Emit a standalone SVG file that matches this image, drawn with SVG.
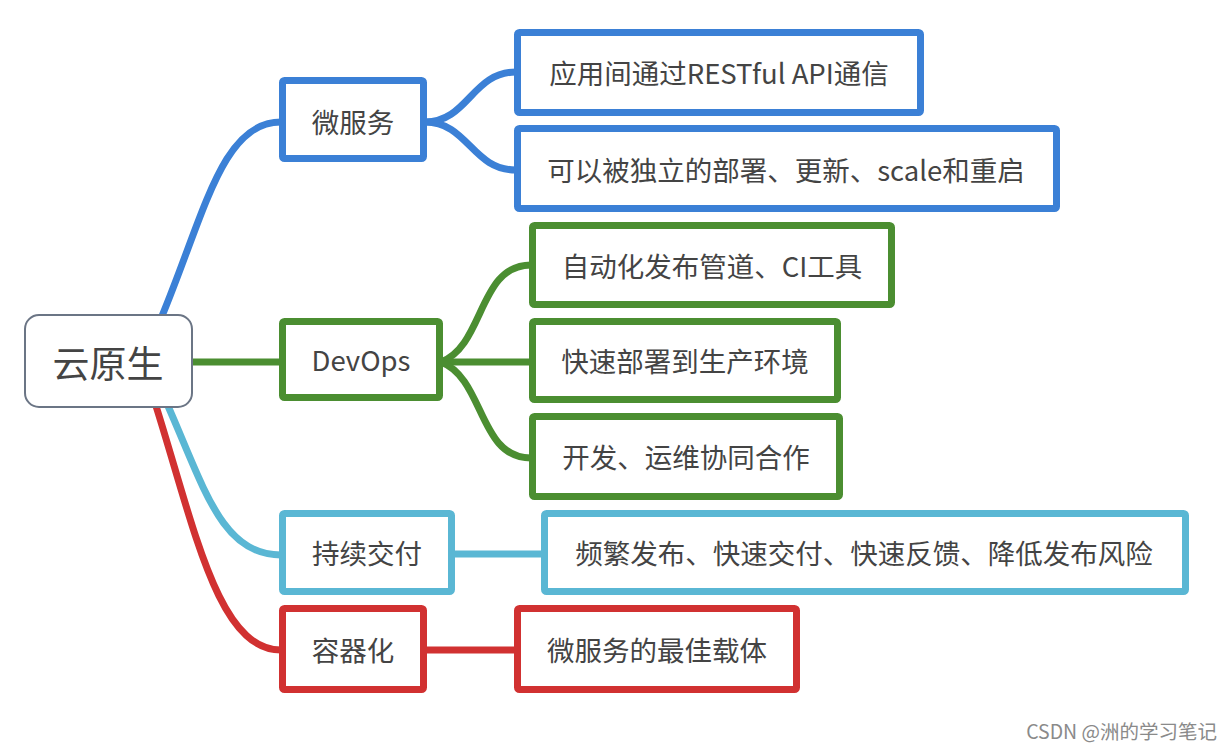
<svg xmlns="http://www.w3.org/2000/svg" width="1230" height="750" viewBox="0 0 1230 750">
<style>
  .t{font-family:"Noto Sans CJK SC","Liberation Sans",sans-serif;font-size:27.5px;fill:#444;text-anchor:middle;dominant-baseline:central}
  .box{fill:#fff;stroke-width:7}
  .c{fill:none;stroke-width:7;stroke-linecap:round}
  .blue{stroke:#3b80d6}
  .green{stroke:#4b8e31}
  .cyan{stroke:#5ab7d4}
  .red{stroke:#d13131}
</style>
<rect width="1230" height="750" fill="#fff"/>
<g id="connectors">
  <path class="c blue" d="M162 316 C205 212 222 122 281 122"/>
  <path class="c green" d="M192 362 L281 362"/>
  <path class="c cyan" d="M168 406 C205 490 222 555 281 555"/>
  <path class="c red" d="M156 406 C195 530 218 650 281 650"/>
  <path class="c blue" d="M425 122 C468 122 472 72 516 72"/>
  <path class="c blue" d="M425 122 C468 122 472 170 516 170"/>
  <path class="c green" d="M441 362 C485 345 478 265 531 265"/>
  <path class="c green" d="M441 362 L531 362"/>
  <path class="c green" d="M441 362 C485 379 478 458 531 458"/>
  <path class="c cyan" d="M453 554 L543 554"/>
  <path class="c red" d="M425 650 L516 650"/>
</g>
<g id="root">
  <rect x="25" y="315" width="167" height="92" rx="14" fill="#fff" stroke="#6b7585" stroke-width="2"/>
  <text class="t" x="108" y="362" style="font-size:37px">云原生</text>
</g>
<g id="n-microservice">
  <rect class="box blue" x="282.5" y="80.5" width="141" height="78" rx="2"/>
  <text class="t" x="353" y="121">微服务</text>
</g>
<g id="n-rest">
  <rect class="box blue" x="517.5" y="32.5" width="403" height="80" rx="2"/>
  <text class="t" x="719" y="72">应用间通过RESTful API通信</text>
</g>
<g id="n-deploy">
  <rect class="box blue" x="517.5" y="128.5" width="539" height="80" rx="2"/>
  <text class="t" x="786" y="169">可以被独立的部署、更新、scale和重启</text>
</g>
<g id="n-devops">
  <rect class="box green" x="282.5" y="321.5" width="157" height="76" rx="2"/>
  <text class="t" x="361" y="359">DevOps</text>
</g>
<g id="n-ci">
  <rect class="box green" x="532.5" y="225.5" width="359" height="79" rx="2"/>
  <text class="t" x="712" y="265">自动化发布管道、CI工具</text>
</g>
<g id="n-prod">
  <rect class="box green" x="532.5" y="321.5" width="305" height="78" rx="2"/>
  <text class="t" x="685" y="360">快速部署到生产环境</text>
</g>
<g id="n-collab">
  <rect class="box green" x="532.5" y="416.5" width="307" height="80" rx="2"/>
  <text class="t" x="686" y="456">开发、运维协同合作</text>
</g>
<g id="n-cd">
  <rect class="box cyan" x="282.5" y="513.5" width="169" height="78" rx="2"/>
  <text class="t" x="367" y="552">持续交付</text>
</g>
<g id="n-release">
  <rect class="box cyan" x="544.5" y="513.5" width="641" height="78" rx="2"/>
  <text class="t" x="864" y="552">频繁发布、快速交付、快速反馈、降低发布风险</text>
</g>
<g id="n-container">
  <rect class="box red" x="282.5" y="608.5" width="141" height="81" rx="2"/>
  <text class="t" x="353" y="649">容器化</text>
</g>
<g id="n-carrier">
  <rect class="box red" x="517.5" y="608.5" width="279" height="81" rx="2"/>
  <text class="t" x="657" y="649">微服务的最佳载体</text>
</g>
<text x="1217" y="739" font-family="Noto Sans CJK SC, Liberation Sans, sans-serif" font-size="19.5" fill="#8a8a8a" text-anchor="end">CSDN @洲的学习笔记</text>
</svg>
